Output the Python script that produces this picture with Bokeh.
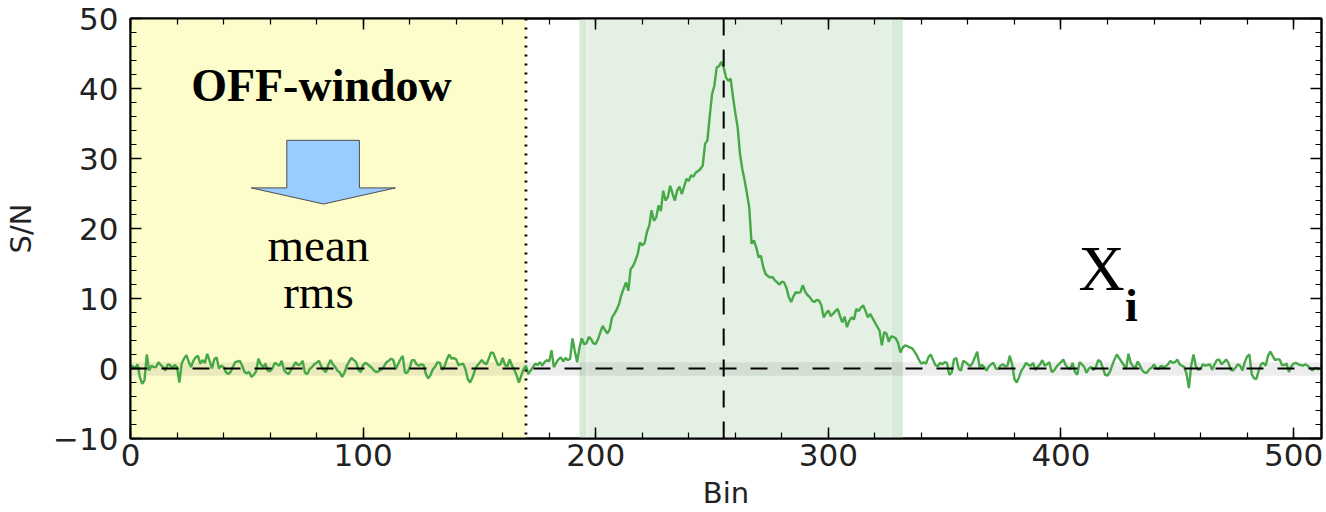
import numpy as np
from bokeh.plotting import figure
from bokeh.models import (Range1d, LinearAxis, SingleIntervalTicker, BoxAnnotation, Span)
from bokeh.core.properties import value
from bokeh.embed import file_html
from bokeh.resources import INLINE

# ---------------- data ----------------
bins = list(range(512))
snr = [
    0.4, 0.3, 0.0, 0.6, -1.2, -2.2, -1.7, 2.0, -0.3, 0.4, 0.2, 0.2, 0.9, 0.5, 0.2, -0.3, 0.6, 0.5, 0.0, 0.5,
    0.2, -2.0, 0.7, 1.4, 1.9, 1.0, 0.2, 1.1, 1.6, 1.8, 0.7, 1.2, 0.8, 2.1, 1.1, 0.0, 1.3, 1.6, 0.0, 0.4,
    0.2, -0.5, -0.8, -0.5, 0.2, 0.9, 1.0, 1.1, 0.4, -0.5, -0.7, -0.5, -1.2, -0.9, -0.4, 1.4, 0.6, 0.2, 0.7, -0.3,
    -0.4, 0.0, 0.8, 0.6, 0.4, 1.1, -0.2, -0.6, -0.8, -0.2, 0.3, 0.9, 0.5, 0.6, 1.1, -0.6, -0.8, -0.1, 0.2, 0.6,
    0.8, 1.1, 0.3, -0.2, -0.5, 0.5, 1.2, 0.6, 0.2, -0.3, -0.6, -1.2, -0.6, 0.4, 1.0, 1.5, 1.2, 0.9, -0.2, -0.5,
    0.5, 0.8, 0.6, 0.3, 0.0, -0.4, -0.5, -0.3, -0.1, 0.3, 0.9, 1.1, 1.4, 1.2, -0.1, 0.6, 1.3, 1.8, -0.6, -0.6,
    0.1, 1.2, 1.2, 0.6, 0.4, 0.6, 0.5, -0.8, -1.4, -0.9, -0.1, 0.3, 0.9, 0.8, -0.2, 0.3, 1.3, 2.0, 1.4, 1.5,
    1.3, 0.5, 0.6, 0.7, -0.1, -1.5, -2.0, -1.3, -0.3, 0.4, 0.8, 1.2, 0.8, 0.6, 1.4, 2.3, 2.2, 1.3, 0.5, 0.6,
    1.5, 0.5, 0.3, 1.3, 0.4, -0.2, -1.0, -2.0, -1.0, -0.1, 0.4, -0.8, -0.3, 0.2, 0.7, 0.5, 0.9, 0.4, 0.9, 1.2,
    1.0, 2.6, 0.2, 0.8, 1.3, 1.6, 1.0, 1.5, 1.2, 1.4, 4.3, 2.5, 0.9, 3.0, 4.3, 3.5, 3.6, 4.5, 4.2, 3.6,
    3.5, 4.2, 5.2, 6.1, 5.5, 5.0, 5.6, 7.3, 7.8, 8.4, 9.2, 10.5, 11.4, 12.3, 11.1, 14.2, 14.6, 15.4, 16.3, 18.0,
    17.6, 17.9, 19.5, 20.4, 22.6, 21.1, 21.6, 23.3, 22.5, 25.4, 24.0, 24.5, 26.1, 25.0, 24.0, 25.4, 26.0, 24.9, 26.0, 27.1,
    26.8, 27.6, 27.4, 28.0, 28.2, 28.5, 29.0, 32.1, 32.6, 36.0, 39.2, 40.4, 43.0, 43.2, 43.8, 43.0, 41.6, 41.1, 41.4, 38.8,
    36.5, 34.5, 30.7, 28.5, 26.9, 25.0, 23.0, 17.8, 18.3, 17.3, 15.9, 16.1, 14.5, 13.5, 13.2, 13.0, 13.1, 12.6, 12.3, 12.0,
    12.4, 12.3, 11.5, 10.2, 9.5, 10.3, 10.9, 10.8, 10.9, 11.9, 11.0, 10.5, 10.2, 9.7, 9.5, 9.8, 9.7, 9.0, 7.3, 7.9,
    8.3, 7.5, 7.8, 8.2, 8.5, 7.5, 6.6, 7.4, 5.9, 6.8, 7.3, 7.0, 8.5, 8.2, 8.7, 9.0, 8.2, 7.3, 7.8, 7.2,
    6.6, 6.0, 5.4, 3.3, 5.2, 5.0, 3.8, 4.6, 4.5, 4.3, 3.6, 2.3, 3.0, 3.3, 3.2, 3.0, 2.9, 2.4, 1.9, 1.2,
    0.7, 0.9, 0.7, 1.6, 2.0, 1.2, 0.5, 0.3, 0.8, 0.6, 0.9, 0.8, -0.9, -0.6, 1.3, 1.5, 0.0, -0.3, 1.1, 0.9,
    0.6, 0.3, 0.8, 1.6, 2.4, 0.2, 0.5, 0.2, -0.3, 0.3, 0.6, 0.8, 0.0, -0.1, 0.4, 0.6, 0.3, 0.4, 1.8, 0.6,
    -1.5, -2.0, -1.2, -0.3, 0.2, 0.8, 0.5, 0.4, 0.8, -0.2, 0.2, 0.6, 1.2, 0.4, 0.6, 0.9, -0.5, -0.3, 0.2, 0.6,
    0.9, 1.3, 0.5, 0.1, -0.1, 0.8, -0.5, -0.9, 0.9, 0.6, 0.2, -0.6, 0.0, 0.2, -0.2, 0.2, 1.2, 1.0, 0.1, -0.9,
    -1.0, -0.5, 0.4, 1.3, 2.0, 1.5, 1.0, 0.5, -0.1, 2.1, 0.8, 0.3, 0.1, 1.0, 0.4, -0.3, -0.6, -0.6, -0.1, 0.1,
    0.6, 0.0, -0.1, 0.4, 0.2, 0.3, 0.6, 1.1, 0.8, 0.9, 1.3, 0.6, 0.4, 0.2, -0.8, -2.8, 0.5, 2.0, 0.3, -0.2,
    -0.1, 0.6, 0.4, 0.5, 0.6, -0.2, 0.6, 1.2, 1.3, 0.6, 0.9, 1.3, 0.8, -0.2, -0.3, 0.1, 0.6, 0.4, -0.3, 0.9,
    1.7, 2.0, -0.8, -1.4, -1.5, -0.3, 0.6, 0.8, 0.4, 1.8, 2.4, 1.8, 1.2, 1.3, 1.3, 0.5, 0.5, 0.7, -0.5, 0.3,
    0.7, 0.8, 0.6, 0.5, 0.4, 0.6, 0.4, 0.1, -0.3, 0.0, 0.1, -0.2,
]

off_window = [0, 170]          # OFF-window (bins)
on_window_outer = [193, 332]   # ON-window limits
on_window_inner = [196.3, 326.8]
peak_bin = 255
off_mean = -0.07
off_rms = 0.97

x_major = 100
y_major = 10

# annotation geometry (data units)
arrow_x = [67.2, 98.4, 98.4, 113.9, 83.0, 51.9, 67.2]
arrow_y = [32.6, 32.6, 25.8, 25.8, 23.5, 25.8, 25.8]

# ---------------- figure ----------------
p = figure(width=1326, height=512, x_range=Range1d(0, 512), y_range=Range1d(-10, 50),
           output_backend="svg", toolbar_location=None,
           min_border_left=130, min_border_right=5, min_border_top=18, min_border_bottom=74,
           background_fill_color="white", border_fill_color="white")
p.outline_line_color = "black"
p.outline_line_width = 2
p.xgrid.visible = False
p.ygrid.visible = False

# shaded regions
p.add_layout(BoxAnnotation(left=off_window[0], right=off_window[1], fill_color="#fdfccb",
                           fill_alpha=1, line_color=None, level="underlay"))
p.add_layout(BoxAnnotation(left=on_window_outer[0], right=on_window_outer[1], fill_color="#d8ead8",
                           fill_alpha=1, line_color=None, level="underlay"))
p.add_layout(BoxAnnotation(left=on_window_inner[0], right=on_window_inner[1], fill_color="#e3f0e3",
                           fill_alpha=1, line_color=None, level="underlay"))
for loc in on_window_inner:
    p.add_layout(Span(location=loc, dimension="height", line_color="#f0f7f0", line_width=1.5,
                      level="underlay"))
p.add_layout(BoxAnnotation(bottom=off_mean - off_rms, top=off_mean + off_rms, fill_color="black",
                           fill_alpha=0.07, line_color=None, level="underlay"))

# profile
p.line(bins, snr, line_color="#46a846", line_width=2.4)

# reference lines
p.add_layout(Span(location=0, dimension="width", line_color="black", line_width=2,
                  line_dash="17 14"))
p.add_layout(Span(location=peak_bin, dimension="height", line_color="black", line_width=2,
                  line_dash="17 14"))
p.add_layout(Span(location=off_window[1], dimension="height", line_color="black", line_width=2.8,
                  line_dash="2 7"))

# arrow
p.patch(arrow_x, arrow_y, fill_color="#99ccff", line_color="#4d4d4d", line_width=1)

# texts
serif = value("Liberation Serif")
p.text(x=[82.1], y=[40.4], text=["OFF-window"], text_font=serif, text_font_style="bold",
       text_font_size="46px", text_align="center", text_baseline="alphabetic", text_color="black")
p.text(x=[80.8, 80.8], y=[17.6, 11.0], text=["mean", "rms"], text_font=serif,
       text_font_size="47px", text_align="center", text_baseline="alphabetic", text_color="black")
p.text(x=[407.5], y=[14.3], text=["X"], text_font=serif, text_font_size="64px",
       text_align="left", text_baseline="alphabetic", text_color="black")
p.text(x=[427.5], y=[9.0], text=["i"], text_font=serif, text_font_style="bold",
       text_font_size="46px", text_align="left", text_baseline="alphabetic", text_color="black")

# axes
def style(ax, labels=True):
    ax.axis_line_color = "black"
    ax.axis_line_width = 2
    ax.major_tick_in = 11
    ax.major_tick_out = 0
    ax.minor_tick_in = 6
    ax.minor_tick_out = 0
    ax.major_tick_line_color = "black"
    ax.minor_tick_line_color = "black"
    ax.major_tick_line_width = 1.5
    ax.minor_tick_line_width = 1.2
    if labels:
        ax.major_label_text_font = "DejaVu Sans"
        ax.major_label_text_font_size = "31px"
        ax.major_label_text_color = "#222222"
        ax.axis_label_text_font = "DejaVu Sans"
        ax.axis_label_text_font_size = "29px"
        ax.axis_label_text_font_style = "normal"
        ax.axis_label_text_color = "#222222"
    else:
        ax.major_label_text_font_size = "1px"
        ax.major_label_text_color = None
        ax.major_label_standoff = 0

xt = lambda: SingleIntervalTicker(interval=x_major, num_minor_ticks=5)
yt = lambda: SingleIntervalTicker(interval=y_major, num_minor_ticks=5)

p.xaxis.ticker = xt()
p.yaxis.ticker = yt()
style(p.xaxis[0])
style(p.yaxis[0])
p.xaxis.axis_label = "Bin"
p.yaxis.axis_label = "S/N"
p.xaxis.major_label_standoff = 5
p.xaxis.axis_label_standoff = 7
p.yaxis.major_label_standoff = 12
p.yaxis.axis_label_standoff = 12
p.yaxis.major_label_overrides = {-10: "\u221210"}

top = LinearAxis(ticker=xt())
style(top, labels=False)
p.add_layout(top, "above")
right = LinearAxis(ticker=yt())
style(right, labels=False)
p.add_layout(right, "right")

open("out.html", "w").write(file_html(p, INLINE))
